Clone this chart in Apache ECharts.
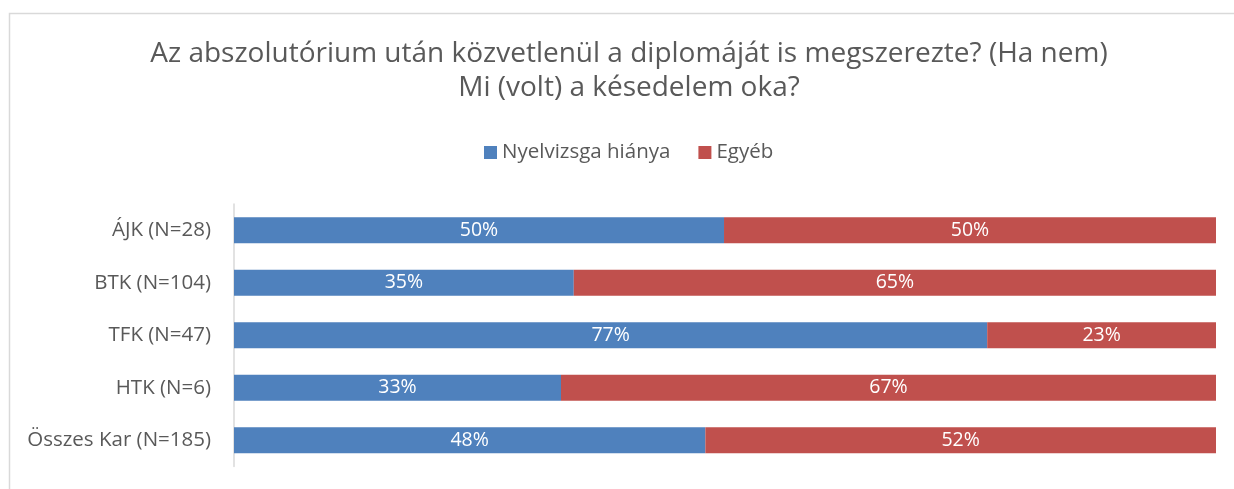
<!DOCTYPE html>
<html>
<head>
<meta charset="utf-8">
<script src="https://cdn.jsdelivr.net/npm/echarts@6/dist/echarts.min.js"></script>
<style>html,body{margin:0;padding:0;background:#fff;}#c{width:1234px;height:489px;}</style>
</head>
<body>
<div id="c"></div>
<script>
const categories = ['ÁJK (N=28)', 'BTK (N=104)', 'TFK (N=47)', 'HTK (N=6)', 'Összes Kar (N=185)'];
const seriesNames = ['Nyelvizsga hiánya', 'Egyéb'];
const nyelvizsga = [49.9, 34.6, 76.7, 33.3, 48.0];
const egyeb = [50.1, 65.4, 23.3, 66.7, 52.0];
const titleLines = ['Az abszolutórium után közvetlenül a diplomáját is megszerezte? (Ha nem)', 'Mi (volt) a késedelem oka?'];

const FONT = 'Open Sans';
const chart = echarts.init(document.getElementById('c'), null, {renderer: 'canvas'});
const lbl = {
  show: true, position: 'inside', color: '#ffffff', fontFamily: FONT, fontSize: 19.5,
  formatter: p => Math.round(p.value) + '%'
};
chart.setOption({
  animation: false,
  backgroundColor: '#ffffff',
  graphic: [{
    type: 'rect', left: 7, top: 11, shape: {width: 1260, height: 520},
    style: {fill: 'none', stroke: '#d9d9d9', lineWidth: 1.5}
  }],
  title: {
    text: titleLines.join('\n'), left: 624, textAlign: 'center', top: 32,
    textStyle: {fontFamily: FONT, fontSize: 28, fontWeight: 'normal', color: '#595959', lineHeight: 34}
  },
  legend: {
    data: seriesNames, top: 137, left: 479, itemWidth: 13, itemHeight: 13, itemGap: 28,
    icon: 'rect',
    textStyle: {fontFamily: FONT, fontSize: 20.5, color: '#595959'}
  },
  grid: {left: 234, right: 18, top: 204, height: 262.5, containLabel: false},
  xAxis: {type: 'value', min: 0, max: 100, show: false},
  yAxis: {
    type: 'category', data: categories, inverse: true,
    axisLine: {show: true, lineStyle: {color: '#d9d9d9', width: 1.5}},
    axisTick: {show: false},
    axisLabel: {fontFamily: FONT, fontSize: 20.5, color: '#595959', margin: 23}
  },
  series: [
    {name: seriesNames[0], type: 'bar', stack: 's', data: nyelvizsga, barWidth: 26,
     itemStyle: {color: '#4f81bd'}, label: lbl},
    {name: seriesNames[1], type: 'bar', stack: 's', data: egyeb, barWidth: 26,
     itemStyle: {color: '#c0504d'}, label: lbl}
  ]
});
</script>
</body>
</html>
